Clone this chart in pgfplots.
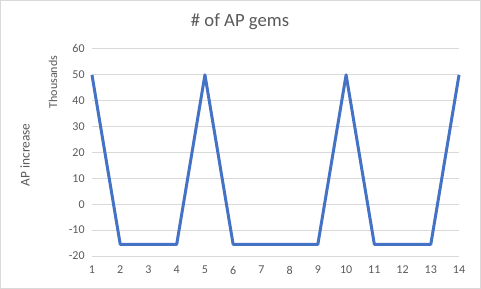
\documentclass[border=0pt]{standalone}
\usepackage{pgfplots}
\pgfplotsset{compat=1.18}
\usepackage{fontspec}
\setmainfont{Carlito}
\definecolor{txt}{HTML}{595959}
\definecolor{grid}{HTML}{D9D9D9}
\definecolor{line}{HTML}{4472C4}
\begin{document}
\begin{tikzpicture}[x=1pt,y=1pt]
\path[draw=grid,line width=0.75pt] (0.4,0.4) rectangle (360.35,216.35);
\node[text=txt,font=\fontsize{14}{16}\selectfont] at (180,200.5) {\# of AP gems};
\node[text=txt,font=\fontsize{10}{12}\selectfont,rotate=90] at (18.75,100.5) {AP increase};
\node[text=txt,font=\fontsize{9}{11}\selectfont,rotate=90] at (39.75,155.25) {Thousands};
\begin{axis}[
  at={(69pt,24.75pt)}, anchor=south west,
  scale only axis, width=275.25pt, height=155.25pt,
  xmin=1, xmax=14, ymin=-20, ymax=60,
  xtick={1,...,14}, ytick={-20,-10,...,60},
  axis line style={draw=none},
  axis x line*=bottom,
  x axis line style={draw=grid,line width=0.75pt},
  ymajorgrids, major grid style={draw=grid,line width=0.75pt},
  major tick length=0pt,
  tick label style={text=txt,font=\fontsize{9}{11}\selectfont},
  /pgf/number format/assume math mode=true,
  yticklabel style={xshift=-2pt},
  xticklabel style={yshift=-4pt},
  clip=false,
]
\addplot[color=line,line width=2.25pt,line join=round] coordinates {
(1,50) (2,-15.5) (3,-15.5) (4,-15.5) (5,50) (6,-15.5) (7,-15.5) (8,-15.5) (9,-15.5) (10,50) (11,-15.5) (12,-15.5) (13,-15.5) (14,50)
};
\end{axis}
\end{tikzpicture}
\end{document}
